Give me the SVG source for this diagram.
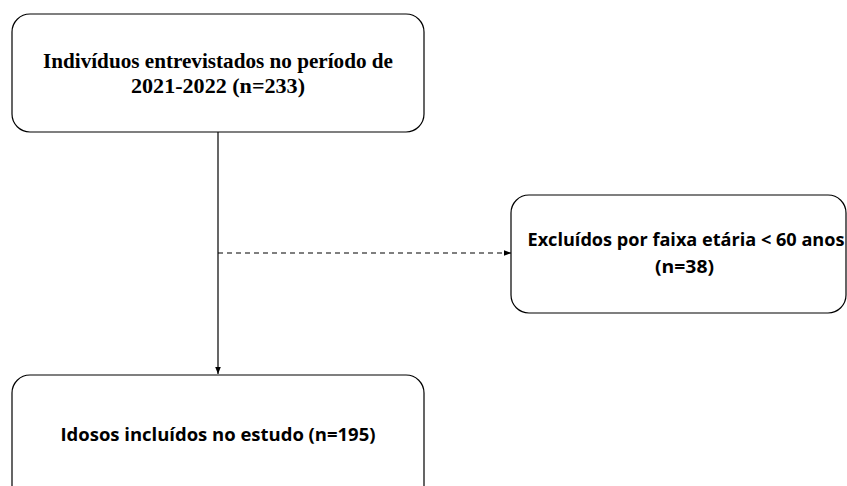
<svg xmlns="http://www.w3.org/2000/svg" width="847" height="486" viewBox="0 0 847 486">
<style>
.box{fill:#fff;stroke:#000;stroke-width:1.2}
.ser{font-family:"Liberation Serif","DejaVu Serif",serif;font-weight:bold;font-size:21px;fill:#000;text-anchor:middle}
.san{font-family:"Open Sans","Liberation Sans",sans-serif;font-weight:bold;font-size:18px;fill:#000;text-anchor:middle}
.ln{stroke:#000;stroke-width:1.2;fill:none}
</style>
<defs>
<marker id="ah" viewBox="0 0 10 10" refX="10" refY="5" markerWidth="7" markerHeight="7" orient="auto" markerUnits="userSpaceOnUse">
<path d="M0,1 L10,5 L0,9 z" fill="#000"/>
</marker>
</defs>
<rect width="847" height="486" fill="#fff"/>
<g id="connectors">
<line class="ln" x1="218" y1="132" x2="218" y2="374" marker-end="url(#ah)"/>
<line class="ln" x1="218" y1="253" x2="511" y2="253" stroke-dasharray="5,4" marker-end="url(#ah)"/>
</g>
<g id="node1">
<rect class="box" x="12" y="14" width="412" height="118" rx="18"/>
<text class="ser" x="218" y="68" textLength="350" lengthAdjust="spacingAndGlyphs">Indivíduos entrevistados no período de</text>
<text class="ser" x="218" y="93" textLength="174" lengthAdjust="spacingAndGlyphs">2021-2022 (n=233)</text>
</g>
<g id="node2">
<rect class="box" x="511" y="195" width="335" height="118" rx="18"/>
<text class="san" x="686" y="246" textLength="317" lengthAdjust="spacingAndGlyphs">Excluídos por faixa etária &lt; 60 anos</text>
<text class="san" x="684.5" y="273" textLength="59" lengthAdjust="spacingAndGlyphs">(n=38)</text>
</g>
<g id="node3">
<rect class="box" x="12" y="375" width="412" height="130" rx="18"/>
<text class="san" x="218" y="441" textLength="315" lengthAdjust="spacingAndGlyphs">Idosos incluídos no estudo (n=195)</text>
</g>
</svg>
